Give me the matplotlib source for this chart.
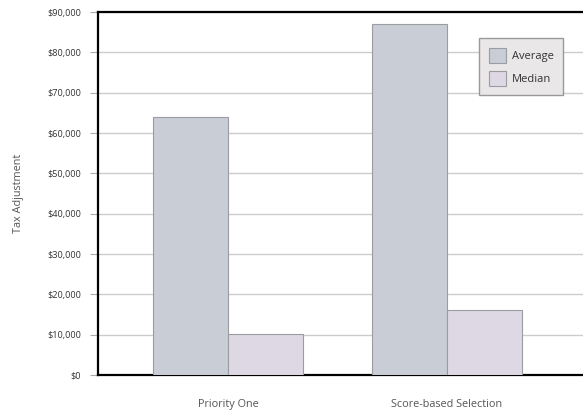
import matplotlib
matplotlib.use("Agg")
import matplotlib.pyplot as plt
import numpy as np

categories = ["Priority One", "Score-based Selection"]
average = [64000, 87000]
median = [10200, 16000]
yticks = [0, 10000, 20000, 30000, 40000, 50000, 60000, 70000, 80000, 90000]

plt.rcParams['font.family'] = ['Open Sans', 'DejaVu Sans']
text_color = '#555555'

fig = plt.figure(figsize=(5.83, 4.12), dpi=100)
ax = fig.add_axes([0.168, 0.0898, 0.832, 0.881])

x = np.arange(len(categories))
w = 0.343
ax.bar(x - w / 2, average, w, color='#c9ced6', edgecolor='#9a9ca0', linewidth=0.8,
       label='Average', zorder=3)
ax.bar(x + w / 2, median, w, color='#ded8e5', edgecolor='#9a9ca0', linewidth=0.8,
       label='Median', zorder=3)

ax.set_xlim(-0.594, 1.621)
ax.set_ylim(0, 90000)
ax.set_yticks(yticks)
ax.set_yticklabels([f"${v:,}" for v in yticks], fontsize=6.6, color='#333333')
ax.set_xticks(x)
ax.set_xticklabels(categories, fontsize=7.8, color=text_color)
ax.tick_params(axis='x', length=0, pad=17)
ax.tick_params(axis='y', length=6, color='#aaaaaa', width=0.8, pad=6)

ax.yaxis.grid(True, color='#cccccc', linewidth=1.0, zorder=0)
ax.set_axisbelow(True)

for side in ['left', 'bottom', 'top']:
    ax.spines[side].set_linewidth(1.6)
    ax.spines[side].set_color('black')
ax.spines['right'].set_visible(False)

ax.set_ylabel("Tax Adjustment", fontsize=7.8, color=text_color, labelpad=17)

leg = ax.legend(loc='upper left', bbox_to_anchor=(0.786, 0.928), fontsize=8,
                frameon=True, fancybox=False, borderpad=0.85, handlelength=1.6,
                handleheight=1.7, labelspacing=0.75, handletextpad=0.5,
                borderaxespad=0)
leg.get_frame().set_facecolor('#e9e7e8')
leg.get_frame().set_edgecolor('#999999')
leg.get_frame().set_alpha(1)
for t in leg.get_texts():
    t.set_color('#333333')

fig.savefig("out.png", dpi=100)
